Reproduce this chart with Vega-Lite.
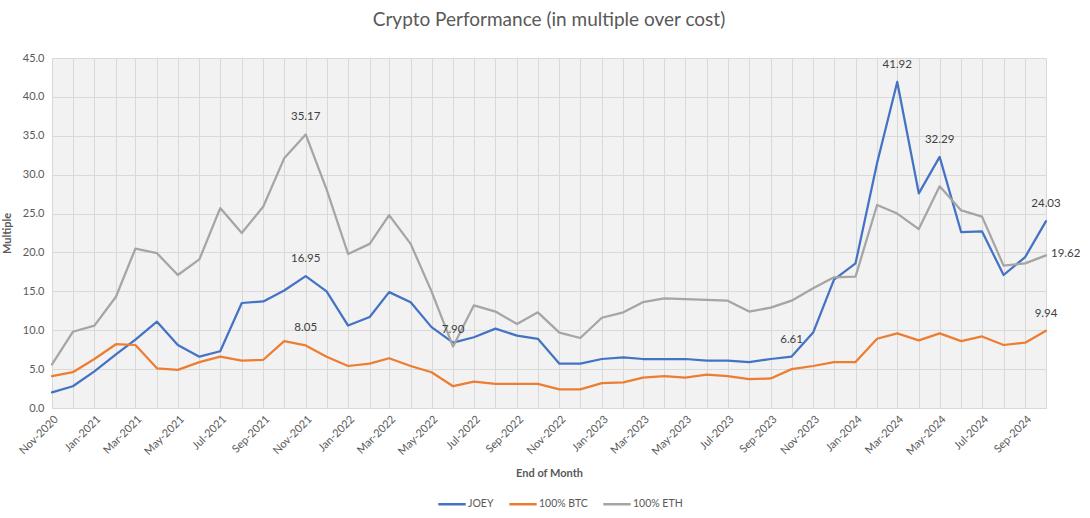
{
  "$schema": "https://vega.github.io/schema/vega-lite/v6.json",
  "width": 994,
  "height": 350,
  "autosize": "none",
  "padding": {"left": 52, "top": 58, "right": 44, "bottom": 110},
  "background": "white",
  "config": {
    "font": "Lato",
    "view": {"stroke": null, "fill": "#f2f2f2"},
    "axis": {"labelFont": "Lato", "titleFont": "Lato", "labelColor": "#595959", "titleColor": "#595959", "gridColor": "#d9d9d9", "domainColor": "#d9d9d9", "ticks": false},
    "axisY": {"labelOverlap": false}
  },
  "title": {"text": "Crypto Performance (in multiple over cost)", "fontSize": 19, "fontWeight": "normal", "color": "#595959", "font": "Lato", "offset": 22, "anchor": "middle"},
  "datasets": {
    "wide": [
      {"date": "2020-11-01", "JOEY": 2.0, "100% BTC": 4.1, "100% ETH": 5.6},
      {"date": "2020-12-01", "JOEY": 2.8, "100% BTC": 4.6, "100% ETH": 9.8},
      {"date": "2021-01-01", "JOEY": 4.7, "100% BTC": 6.3, "100% ETH": 10.6},
      {"date": "2021-02-01", "JOEY": 6.9, "100% BTC": 8.2, "100% ETH": 14.3},
      {"date": "2021-03-01", "JOEY": 8.8, "100% BTC": 8.1, "100% ETH": 20.5},
      {"date": "2021-04-01", "JOEY": 11.1, "100% BTC": 5.1, "100% ETH": 19.9},
      {"date": "2021-05-01", "JOEY": 8.1, "100% BTC": 4.9, "100% ETH": 17.1},
      {"date": "2021-06-01", "JOEY": 6.6, "100% BTC": 5.9, "100% ETH": 19.1},
      {"date": "2021-07-01", "JOEY": 7.3, "100% BTC": 6.6, "100% ETH": 25.7},
      {"date": "2021-08-01", "JOEY": 13.5, "100% BTC": 6.1, "100% ETH": 22.5},
      {"date": "2021-09-01", "JOEY": 13.7, "100% BTC": 6.2, "100% ETH": 25.9},
      {"date": "2021-10-01", "JOEY": 15.1, "100% BTC": 8.6, "100% ETH": 32.1},
      {"date": "2021-11-01", "JOEY": 16.95, "100% BTC": 8.05, "100% ETH": 35.17},
      {"date": "2021-12-01", "JOEY": 15.0, "100% BTC": 6.6, "100% ETH": 28.1},
      {"date": "2022-01-01", "JOEY": 10.6, "100% BTC": 5.4, "100% ETH": 19.8},
      {"date": "2022-02-01", "JOEY": 11.7, "100% BTC": 5.7, "100% ETH": 21.1},
      {"date": "2022-03-01", "JOEY": 14.9, "100% BTC": 6.4, "100% ETH": 24.8},
      {"date": "2022-04-01", "JOEY": 13.6, "100% BTC": 5.4, "100% ETH": 21.1},
      {"date": "2022-05-01", "JOEY": 10.4, "100% BTC": 4.6, "100% ETH": 15.0},
      {"date": "2022-06-01", "JOEY": 8.4, "100% BTC": 2.8, "100% ETH": 7.9},
      {"date": "2022-07-01", "JOEY": 9.1, "100% BTC": 3.4, "100% ETH": 13.2},
      {"date": "2022-08-01", "JOEY": 10.2, "100% BTC": 3.1, "100% ETH": 12.4},
      {"date": "2022-09-01", "JOEY": 9.3, "100% BTC": 3.1, "100% ETH": 10.8},
      {"date": "2022-10-01", "JOEY": 8.9, "100% BTC": 3.1, "100% ETH": 12.3},
      {"date": "2022-11-01", "JOEY": 5.7, "100% BTC": 2.4, "100% ETH": 9.7},
      {"date": "2022-12-01", "JOEY": 5.7, "100% BTC": 2.4, "100% ETH": 9.0},
      {"date": "2023-01-01", "JOEY": 6.3, "100% BTC": 3.2, "100% ETH": 11.6},
      {"date": "2023-02-01", "JOEY": 6.5, "100% BTC": 3.3, "100% ETH": 12.3},
      {"date": "2023-03-01", "JOEY": 6.3, "100% BTC": 3.9, "100% ETH": 13.6},
      {"date": "2023-04-01", "JOEY": 6.3, "100% BTC": 4.1, "100% ETH": 14.1},
      {"date": "2023-05-01", "JOEY": 6.3, "100% BTC": 3.9, "100% ETH": 14.0},
      {"date": "2023-06-01", "JOEY": 6.1, "100% BTC": 4.3, "100% ETH": 13.9},
      {"date": "2023-07-01", "JOEY": 6.1, "100% BTC": 4.1, "100% ETH": 13.8},
      {"date": "2023-08-01", "JOEY": 5.9, "100% BTC": 3.7, "100% ETH": 12.4},
      {"date": "2023-09-01", "JOEY": 6.3, "100% BTC": 3.8, "100% ETH": 12.9},
      {"date": "2023-10-01", "JOEY": 6.61, "100% BTC": 5.0, "100% ETH": 13.8},
      {"date": "2023-11-01", "JOEY": 9.7, "100% BTC": 5.4, "100% ETH": 15.4},
      {"date": "2023-12-01", "JOEY": 16.5, "100% BTC": 5.9, "100% ETH": 16.8},
      {"date": "2024-01-01", "JOEY": 18.6, "100% BTC": 5.9, "100% ETH": 16.9},
      {"date": "2024-02-01", "JOEY": 31.5, "100% BTC": 8.9, "100% ETH": 26.1},
      {"date": "2024-03-01", "JOEY": 41.92, "100% BTC": 9.6, "100% ETH": 25.0},
      {"date": "2024-04-01", "JOEY": 27.6, "100% BTC": 8.7, "100% ETH": 23.0},
      {"date": "2024-05-01", "JOEY": 32.29, "100% BTC": 9.6, "100% ETH": 28.5},
      {"date": "2024-06-01", "JOEY": 22.6, "100% BTC": 8.6, "100% ETH": 25.4},
      {"date": "2024-07-01", "JOEY": 22.7, "100% BTC": 9.2, "100% ETH": 24.6},
      {"date": "2024-08-01", "JOEY": 17.1, "100% BTC": 8.1, "100% ETH": 18.3},
      {"date": "2024-09-01", "JOEY": 19.4, "100% BTC": 8.4, "100% ETH": 18.6},
      {"date": "2024-10-01", "JOEY": 24.03, "100% BTC": 9.94, "100% ETH": 19.62}
    ],
    "labels": [
      {"date": "2021-11-01", "series": "100% ETH", "value": 35.17},
      {"date": "2021-11-01", "series": "JOEY", "value": 16.95},
      {"date": "2021-11-01", "series": "100% BTC", "value": 8.05},
      {"date": "2022-06-01", "series": "100% ETH", "value": 7.9},
      {"date": "2023-10-01", "series": "JOEY", "value": 6.61},
      {"date": "2024-03-01", "series": "JOEY", "value": 41.92},
      {"date": "2024-05-01", "series": "JOEY", "value": 32.29},
      {"date": "2024-10-01", "series": "JOEY", "value": 24.03},
      {"date": "2024-10-01", "series": "100% BTC", "value": 9.94},
      {"date": "2024-10-01", "series": "100% ETH", "value": 19.62}
    ]
  },
  "encoding": {
    "x": {
      "field": "date", "type": "temporal", "timeUnit": "utcyearmonth",
      "scale": {"nice": false},
      "axis": {
        "title": "End of Month", "titleFontSize": 11, "titleFontWeight": "bold", "titlePadding": 11,
        "tickCount": {"interval": "month", "step": 1},
        "labelExpr": "utcmonth(datum.value) % 2 == 0 ? utcFormat(datum.value, '%b-%Y') : ''",
        "labelAngle": -45, "labelFontSize": 11, "labelPadding": 5, "labelOverlap": false, "labelBound": false,
        "grid": true, "domain": true
      }
    },
    "y": {
      "field": "value", "type": "quantitative",
      "scale": {"domain": [0, 45], "nice": false},
      "axis": {
        "title": "Multiple", "titleFontSize": 11, "titleFontWeight": "bold", "titlePadding": 10,
        "values": [0, 5, 10, 15, 20, 25, 30, 35, 40, 45], "format": ".1f",
        "labelFontSize": 11, "labelPadding": 8, "labelOverlap": false, "labelFlush": false, "labelBound": false,
        "domain": false, "grid": true
      }
    }
  },
  "layer": [
    {
      "data": {"name": "wide"},
      "transform": [{"fold": ["JOEY", "100% BTC", "100% ETH"], "as": ["series", "value"]}],
      "mark": {"type": "line", "strokeWidth": 2.25, "strokeCap": "round", "strokeJoin": "round"},
      "encoding": {
        "color": {
          "field": "series", "type": "nominal",
          "scale": {"domain": ["JOEY", "100% BTC", "100% ETH"], "range": ["#4472C4", "#ED7D31", "#A5A5A5"]},
          "legend": {
            "title": null, "orient": "none", "direction": "horizontal", "legendX": 385, "legendY": 431,
            "symbolType": "stroke", "symbolSize": 750, "symbolStrokeWidth": 2.5,
            "labelFontSize": 10.5, "labelColor": "#595959", "labelFont": "Lato", "columnPadding": 10, "symbolOffset": 0, "labelOffset": 1
          }
        },
        "detail": {"field": "series"}
      }
    },
    {
      "data": {"name": "labels"},
      "transform": [{"filter": "!(datum.series == '100% ETH' && datum.value == 19.62)"}],
      "mark": {"type": "text", "dy": -17, "fontSize": 11.5, "color": "#404040", "font": "Lato"},
      "encoding": {
        "text": {"field": "value", "type": "quantitative", "format": ".2f"}
      }
    },
    {
      "data": {"name": "labels"},
      "transform": [{"filter": "datum.series == '100% ETH' && datum.value == 19.62"}],
      "mark": {"type": "text", "align": "left", "dx": 5, "dy": -1, "fontSize": 11.5, "color": "#404040", "font": "Lato"},
      "encoding": {
        "text": {"field": "value", "type": "quantitative", "format": ".2f"}
      }
    }
  ]
}
